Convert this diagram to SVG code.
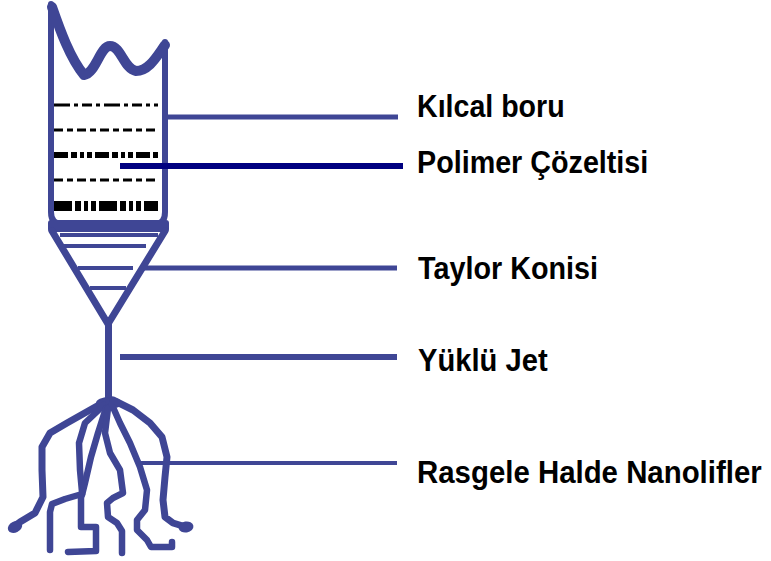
<svg xmlns="http://www.w3.org/2000/svg" width="771" height="561" viewBox="0 0 771 561">
  <style>
    .ink { fill: none; stroke: #3f4695; stroke-linejoin: round; stroke-linecap: round; }
    .fill { fill: #3f4695; }
    .lead { stroke: #3f4695; fill: none; }
    .dash { stroke: #000; fill: none; }
    .label { font-family: "Liberation Sans", Arial, sans-serif; font-weight: bold; font-size: 32px; fill: #000; }
  </style>
  <rect width="771" height="561" fill="#fff"/>

  <!-- capillary tube with torn top edge -->
  <g id="kilcal-boru">
    <path class="ink" stroke-width="10" d="M52,7 C60,30 70,58 84,75 C96,73 100,46 110,46 C121,46 124,69 136,71 C149,71 157,56 165,45"/>
    <path class="ink" stroke-width="6" stroke-linecap="butt" d="M51,4 V212 Q51,224 62,224 H155 Q165,224 165,212 V42"/>
    <rect class="fill" x="48" y="220" width="121" height="12" rx="3"/>
  </g>

  <!-- polymer solution layers -->
  <g id="polimer-cozeltisi">
    <path class="dash" stroke-width="3" stroke-dasharray="16,4,4,4,10,4,4,4" d="M54,105 H158"/>
    <path class="dash" stroke-width="3" stroke-dasharray="9,4,6,4" d="M54,130 H158"/>
    <path class="dash" stroke-width="6" stroke-dasharray="14,3,6,3,4,3,5,3" d="M54,155 H158"/>
    <path class="dash" stroke-width="3" stroke-dasharray="9,4,6,4" d="M54,180 H158"/>
    <path class="dash" stroke-width="10" stroke-dasharray="18,3,6,3,4,3,5,3" d="M54,206 H158"/>
  </g>

  <!-- Taylor cone -->
  <g id="taylor-konisi">
    <path class="ink" stroke-width="7" d="M52,231 L108,324 L165,231"/>
    <path class="lead" stroke-width="4" d="M60,235 H158"/>
    <path class="lead" stroke-width="4" d="M64,246 H146"/>
    <path class="lead" stroke-width="4" d="M78,268 H133"/>
    <path class="lead" stroke-width="4" d="M90,288 H126"/>
  </g>

  <!-- charged jet -->
  <g id="yuklu-jet">
    <path class="ink" stroke-width="7" stroke-linecap="butt" d="M108.5,322 V402"/>
  </g>

  <!-- randomly deposited nanofibres -->
  <g id="nanolifler">
    <ellipse class="fill" cx="109" cy="403" rx="13" ry="6"/>
    <path class="ink" stroke-width="7" d="M106,401 L90,410 L67,423 L50,433 L42,447 L42,470 L43,497 L35,513 L20,522 L13,527"/>
    <ellipse class="fill" cx="15" cy="527" rx="7.5" ry="5.5" transform="rotate(-25 15 527)"/>
    <path class="ink" stroke-width="6.5" d="M104,405 L85,423 L79,443 L80,470 L82,492"/>
    <path class="ink" stroke-width="6.5" d="M106,408 L98,433 L91,457 L85,483 L82,495"/>
    <path class="ink" stroke-width="6.5" d="M82,494 L65,499 L52,504 L50,512 L50,550"/>
    <path class="ink" stroke-width="6.5" d="M81,497 L81,527 L96,527 L96,551 L68,552"/>
    <path class="ink" stroke-width="6.5" d="M108,408 L105,433 L110,453 L120,470 L123,493 L113,498 L107,503 L108,517 L117,523 L122,531 L122,553"/>
    <path class="ink" stroke-width="6.5" d="M112,405 L120,423 L130,443 L140,467 L147,490 L145,510 L137,520 L137,530 L147,540 L151,547 L172,547 L172,542"/>
    <path class="ink" stroke-width="7" d="M113,400 L133,410 L150,423 L162,437 L167,457 L165,477 L163,500 L165,517 L173,523 L186,527"/>
    <ellipse class="fill" cx="186" cy="527" rx="7.5" ry="5.5" transform="rotate(-10 186 527)"/>
  </g>

  <!-- leader lines -->
  <g id="connectors">
    <path class="lead" stroke-width="5" d="M167,117 H398"/>
    <path stroke="#000080" stroke-width="6" fill="none" d="M120,166 H403"/>
    <path class="lead" stroke-width="5" d="M143,268 H397"/>
    <path class="lead" stroke-width="6" d="M120,357 H397"/>
    <path class="lead" stroke-width="4" d="M136,463 H397"/>
  </g>

  <!-- labels: bold sans, horizontally condensed -->
  <g id="etiketler">
    <text class="label" transform="translate(417 117) scale(0.9 1)" textLength="164" lengthAdjust="spacingAndGlyphs">Kılcal boru</text>
    <text class="label" transform="translate(417 173) scale(0.9 1)" textLength="257" lengthAdjust="spacingAndGlyphs">Polimer Çözeltisi</text>
    <text class="label" transform="translate(418 279) scale(0.9 1)" textLength="200" lengthAdjust="spacingAndGlyphs">Taylor Konisi</text>
    <text class="label" transform="translate(418 371) scale(0.9 1)" textLength="144" lengthAdjust="spacingAndGlyphs">Yüklü Jet</text>
    <text class="label" transform="translate(417 483) scale(0.9 1)" textLength="383" lengthAdjust="spacingAndGlyphs">Rasgele Halde Nanolifler</text>
  </g>
</svg>
